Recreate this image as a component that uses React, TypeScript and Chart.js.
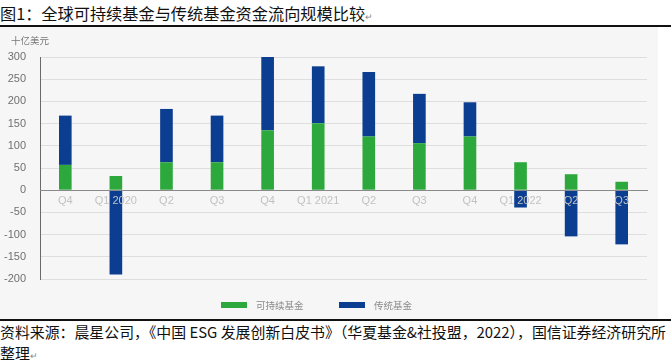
import React, { useEffect, useRef } from "react";
import { Chart, registerables } from "chart.js";

Chart.register(...registerables);

const categories = ["Q4", "Q1 2020", "Q2", "Q3", "Q4", "Q1 2021", "Q2", "Q3", "Q4", "Q1 2022", "Q2", "Q3"];
const sustainable = [57, 32, 63, 63, 135, 151, 121, 106, 121, 63, 36, 19];
const traditional = [111, -190, 120, 105, 165, 128, 145, 111, 77, -39, -104, -122];
const seriesNames = ["可持续基金", "传统基金"];
const seriesColors = ["#2ca83c", "#0b3d91"];
const yMin = -200;
const yMax = 300;
const yStep = 50;

const titleText = "图1：全球可持续基金与传统基金资金流向规模比较";
const unitText = "十亿美元";
const sourceLine1 = "资料来源：晨星公司，《中国 ESG 发展创新白皮书》（华夏基金&社投盟，2022），国信证券经济研究所";
const sourceLine2 = "整理";

const FONT = '"Noto Sans CJK SC", "Noto Sans", sans-serif';

export default function App() {
  const ref = useRef<HTMLCanvasElement | null>(null);

  useEffect(() => {
    document.body.style.margin = "0";
    const canvas = ref.current;
    if (!canvas) return;
    const chart = new Chart(canvas, {
      type: "bar",
      data: {
        labels: categories,
        datasets: [
          {
            label: seriesNames[0],
            data: sustainable,
            backgroundColor: seriesColors[0],
            barPercentage: 0.25,
            categoryPercentage: 1,
          },
          {
            label: seriesNames[1],
            data: traditional,
            backgroundColor: seriesColors[1],
            barPercentage: 0.25,
            categoryPercentage: 1,
          },
        ],
      },
      options: {
        animation: false,
        responsive: false,
        maintainAspectRatio: false,
        layout: { padding: { top: 30, bottom: 40, left: 0, right: 24 } },
        plugins: {
          legend: { display: false },
          tooltip: { enabled: false },
        },
        scales: {
          x: {
            stacked: true,
            position: { y: 0 } as any,
            grid: { display: false, drawTicks: false },
            border: { display: true, color: "#8a8a8a", width: 1, z: 1 },
            ticks: {
              z: 1,
              color: "#c2c2c2",
              padding: 4,
              font: { family: '"Liberation Sans", "Noto Sans", sans-serif', size: 11 },
              maxRotation: 0,
              autoSkip: false,
            },
          },
          y: {
            stacked: true,
            min: yMin,
            max: yMax,
            afterFit: (scale: any) => {
              scale.width = 40;
            },
            grid: { color: "#dedede", drawTicks: false, lineWidth: 1 },
            border: { display: true, color: "#6a6a6a", width: 1 },
            ticks: {
              stepSize: yStep,
              padding: 14,
              color: "#707070",
              font: { family: '"Liberation Sans", "Noto Sans", sans-serif', size: 11 },
            },
          },
        },
      },
    });
    return () => chart.destroy();
  }, []);

  return (
    <div style={{ position: "relative", width: 671, height: 364, background: "#ffffff", overflow: "hidden", fontFamily: FONT }}>
      <div style={{ position: "absolute", left: 0, top: 2, height: 22, lineHeight: "22px", fontSize: 16.2, color: "#111", whiteSpace: "nowrap" }}>
        {titleText}
        <span style={{ fontSize: 9, color: "#888" }}>↵</span>
      </div>
      <div style={{ position: "absolute", left: 0, top: 25, width: 671, height: 2, background: "#111" }} />
      <div style={{ position: "absolute", left: 0, top: 27, width: 658, height: 292, background: "#f6f6f6" }} />
      <canvas ref={ref} width={671} height={292} style={{ position: "absolute", left: 0, top: 27, width: 671, height: 292 }} />
      <div style={{ position: "absolute", left: 11, top: 34, fontSize: 9.5, lineHeight: "12px", color: "#777", whiteSpace: "nowrap" }}>{unitText}</div>
      <div style={{ position: "absolute", left: 221, top: 302, width: 26, height: 6, background: seriesColors[0] }} />
      <div style={{ position: "absolute", left: 256, top: 299, fontSize: 9.5, lineHeight: "12px", color: "#8a8a8a", whiteSpace: "nowrap" }}>{seriesNames[0]}</div>
      <div style={{ position: "absolute", left: 339, top: 302, width: 26, height: 6, background: seriesColors[1] }} />
      <div style={{ position: "absolute", left: 374, top: 299, fontSize: 9.5, lineHeight: "12px", color: "#8a8a8a", whiteSpace: "nowrap" }}>{seriesNames[1]}</div>
      <div style={{ position: "absolute", left: 0, top: 319, width: 671, height: 2, background: "#111" }} />
      <div style={{ position: "absolute", left: 0, top: 321, height: 21, lineHeight: "21px", fontSize: 14.9, color: "#111", whiteSpace: "nowrap" }}>{sourceLine1}</div>
      <div style={{ position: "absolute", left: 0, top: 342, height: 21, lineHeight: "21px", fontSize: 14.9, color: "#111", whiteSpace: "nowrap" }}>
        {sourceLine2}
        <span style={{ fontSize: 9, color: "#888" }}>↵</span>
      </div>
    </div>
  );
}
